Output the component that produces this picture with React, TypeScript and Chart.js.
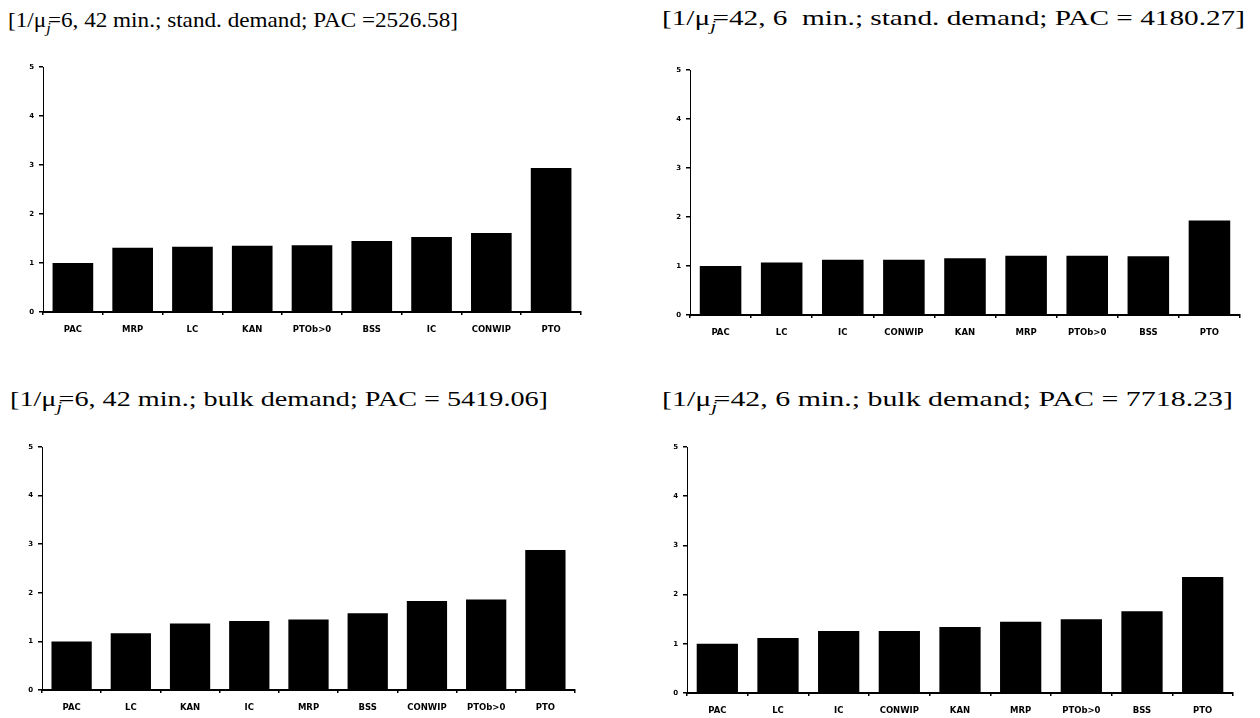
import React, { useEffect, useLayoutEffect, useRef } from "react";
import { Chart, registerables } from "chart.js";

Chart.register(...registerables);

// ---- data ----
const labels1 = ["PAC", "MRP", "LC", "KAN", "PTOb>0", "BSS", "IC", "CONWIP", "PTO"];
const values1 = [1.0, 1.31, 1.33, 1.35, 1.36, 1.45, 1.53, 1.61, 2.94];

const labels2 = ["PAC", "LC", "IC", "CONWIP", "KAN", "MRP", "PTOb>0", "BSS", "PTO"];
const values2 = [1.0, 1.07, 1.13, 1.13, 1.16, 1.21, 1.21, 1.2, 1.93];

const labels3 = ["PAC", "LC", "KAN", "IC", "MRP", "BSS", "CONWIP", "PTOb>0", "PTO"];
const values3 = [1.0, 1.17, 1.37, 1.42, 1.45, 1.58, 1.83, 1.86, 2.88];

const labels4 = ["PAC", "LC", "IC", "CONWIP", "KAN", "MRP", "PTOb>0", "BSS", "PTO"];
const values4 = [1.0, 1.12, 1.26, 1.26, 1.34, 1.45, 1.5, 1.66, 2.36];

const yTicks = [0, 1, 2, 3, 4, 5];

type Area = { l: number; t: number; r: number; b: number };

function BarPanel({ labels, values, area }: { labels: string[]; values: number[]; area: Area }) {
  const ref = useRef<HTMLCanvasElement | null>(null);
  const YW = 40;
  const XH = 30;
  const PT = 10;
  const PR = 10;
  const width = area.r - area.l + YW + PR;
  const height = area.b - area.t + PT + XH;
  useEffect(() => {
    if (!ref.current) return;
    const xFont = { family: "'DejaVu Sans', sans-serif", size: 8.5, weight: "bold" as const };
    const yFont = { family: "'DejaVu Sans', sans-serif", size: 7, weight: "bold" as const };
    const chart = new Chart(ref.current, {
      type: "bar",
      data: {
        labels,
        datasets: [
          {
            data: values,
            backgroundColor: "#000",
            borderWidth: 0,
            categoryPercentage: 1,
            barPercentage: 0.68,
          },
        ],
      },
      options: {
        animation: false,
        responsive: false,
        maintainAspectRatio: false,
        layout: { padding: { top: PT, right: PR, left: 0, bottom: 0 } },
        plugins: { legend: { display: false }, tooltip: { enabled: false }, title: { display: false } },
        scales: {
          x: {
            afterFit: (s: any) => {
              s.height = XH;
            },
            border: { display: true, color: "#000", width: 2 },
            grid: { display: true, drawOnChartArea: false, drawTicks: true, tickLength: 3, color: "#000", lineWidth: 1.5, offset: true },
            ticks: { color: "#000", font: xFont, padding: 10, maxRotation: 0, autoSkip: false },
          },
          y: {
            min: 0,
            max: 5,
            afterFit: (s: any) => {
              s.width = YW;
            },
            afterBuildTicks: (s: any) => {
              s.ticks = yTicks.map((v) => ({ value: v }));
            },
            border: { display: true, color: "#000", width: 1, dash: [4, 3] },
            grid: { display: true, drawOnChartArea: false, drawTicks: true, tickLength: 4, color: "#000", lineWidth: 1.5 },
            ticks: { color: "#000", font: yFont, padding: 5 },
          },
        },
      },
    });
    return () => chart.destroy();
  }, []);
  return (
    <canvas
      ref={ref}
      width={width}
      height={height}
      style={{ position: "absolute", left: area.l - YW, top: area.t - PT, width, height }}
    />
  );
}

function Title({ pre, post, left, top, size, targetWidth }: { pre: string; post: string; left: number; top: number; size: number; targetWidth: number }) {
  const ref = useRef<HTMLDivElement | null>(null);
  useLayoutEffect(() => {
    const el = ref.current;
    if (!el) return;
    el.style.transform = "none";
    const w = el.getBoundingClientRect().width;
    if (w > 0) el.style.transform = `scaleX(${targetWidth / w})`;
  }, []);
  return (
    <div
      ref={ref}
      style={{
        position: "absolute",
        left,
        top,
        fontFamily: "'Liberation Serif', 'Times New Roman', serif",
        fontSize: size,
        lineHeight: 1,
        whiteSpace: "pre",
        color: "#000",
        transformOrigin: "0 0",
      }}
    >
      {pre}
      <span style={{ fontStyle: "italic", fontSize: size * 0.7, position: "relative", top: size * 0.28, marginRight: -size * 0.12 }}>j</span>
      {post}
    </div>
  );
}

export default function App() {
  return (
    <div style={{ position: "absolute", left: 0, top: 0, width: 1260, height: 718, background: "#fff", overflow: "hidden" }}>
      <Title pre="[1/μ" post="=6, 42 min.; stand. demand; PAC =2526.58]" left={8} top={9} size={22} targetWidth={450} />
      <Title pre="[1/μ" post="=42, 6  min.; stand. demand; PAC = 4180.27]" left={662} top={7} size={22} targetWidth={583} />
      <Title pre="[1/μ" post="=6, 42 min.; bulk demand; PAC = 5419.06]" left={10} top={388} size={22} targetWidth={538} />
      <Title pre="[1/μ" post="=42, 6 min.; bulk demand; PAC = 7718.23]" left={662} top={388} size={22} targetWidth={571} />
      <BarPanel labels={labels1} values={values1} area={{ l: 43, t: 67, r: 581, b: 312 }} />
      <BarPanel labels={labels2} values={values2} area={{ l: 690, t: 70, r: 1240, b: 315 }} />
      <BarPanel labels={labels3} values={values3} area={{ l: 42, t: 447, r: 575, b: 690 }} />
      <BarPanel labels={labels4} values={values4} area={{ l: 687, t: 447, r: 1233, b: 693 }} />
    </div>
  );
}
